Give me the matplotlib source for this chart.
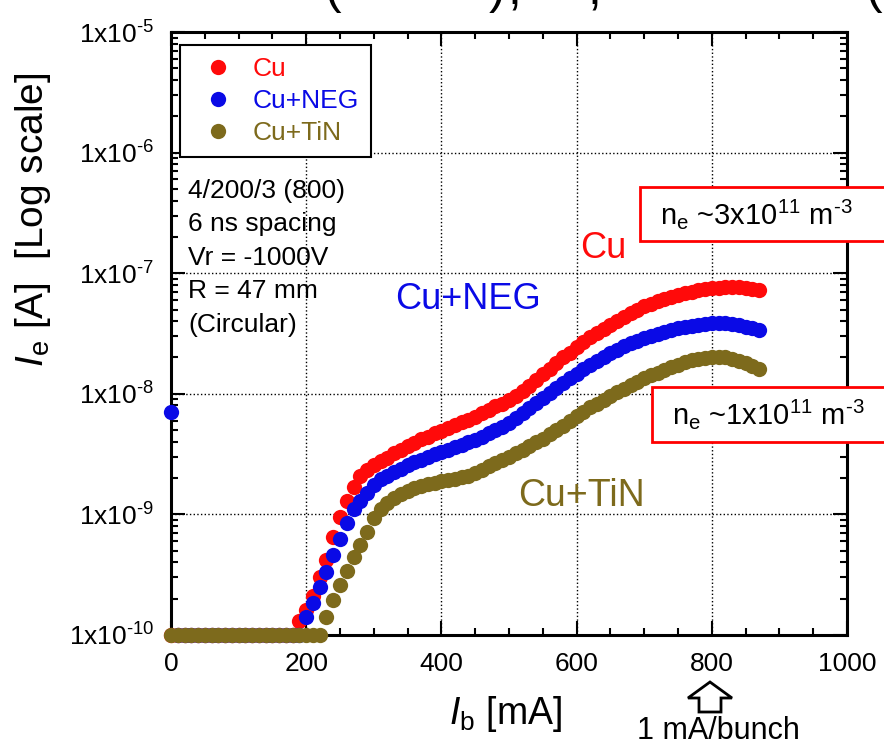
import matplotlib
matplotlib.use('Agg')
import matplotlib.pyplot as plt
import numpy as np
from matplotlib.ticker import FixedLocator, MultipleLocator, FuncFormatter, LogLocator
from matplotlib.patches import Rectangle, Polygon

plt.rcParams['font.family'] = ['Liberation Sans', 'DejaVu Sans']
plt.rcParams['mathtext.fontset'] = 'custom'
plt.rcParams['mathtext.rm'] = 'Liberation Sans'
plt.rcParams['mathtext.it'] = 'Liberation Sans:italic'

# beam current I_b [mA], same sampling for all three chambers
ib = [0, 10, 20, 30, 40, 50, 60, 70, 80, 90,
      100, 110, 120, 130, 140, 150, 160, 170, 180, 190,
      200, 210, 220, 230, 240, 250, 260, 270, 280, 290,
      300, 310, 320, 330, 340, 350, 360, 370, 380, 390,
      400, 410, 420, 430, 440, 450, 460, 470, 480, 490,
      500, 510, 520, 530, 540, 550, 560, 570, 580, 590,
      600, 610, 620, 630, 640, 650, 660, 670, 680, 690,
      700, 710, 720, 730, 740, 750, 760, 770, 780, 790,
      800, 810, 820, 830, 840, 850, 860, 870]

# electron current I_e [A]
ie_cu = [1e-10, 1e-10, 1e-10, 1e-10, 1e-10, 1e-10, 1e-10, 1e-10, 1e-10, 1e-10,
         1e-10, 1e-10, 1e-10, 1e-10, 1e-10, 1e-10, 1e-10, 1e-10, 1e-10, 1.3e-10,
         1.6e-10, 2.1e-10, 3.0e-10, 4.2e-10, 6.5e-10, 9.5e-10, 1.3e-9, 1.7e-9, 2.1e-9, 2.35e-9,
         2.55e-9, 2.75e-9, 2.95e-9, 3.2e-9, 3.45e-9, 3.7e-9, 3.9e-9, 4.2e-9, 4.4e-9, 4.7e-9,
         4.95e-9, 5.2e-9, 5.5e-9, 5.8e-9, 6.1e-9, 6.4e-9, 6.9e-9, 7.4e-9, 7.9e-9, 8.3e-9,
         8.9e-9, 9.6e-9, 1.05e-8, 1.17e-8, 1.3e-8, 1.45e-8, 1.6e-8, 1.8e-8, 2.0e-8, 2.2e-8,
         2.45e-8, 2.7e-8, 2.95e-8, 3.2e-8, 3.45e-8, 3.75e-8, 4.05e-8, 4.35e-8, 4.7e-8, 5.0e-8,
         5.3e-8, 5.55e-8, 5.85e-8, 6.1e-8, 6.35e-8, 6.6e-8, 6.85e-8, 7.05e-8, 7.25e-8, 7.4e-8,
         7.55e-8, 7.6e-8, 7.65e-8, 7.7e-8, 7.7e-8, 7.6e-8, 7.4e-8, 7.2e-8]

ie_neg = [7e-9, 1e-10, 1e-10, 1e-10, 1e-10, 1e-10, 1e-10, 1e-10, 1e-10, 1e-10,
          1e-10, 1e-10, 1e-10, 1e-10, 1e-10, 1e-10, 1e-10, 1e-10, 1e-10, 1e-10,
          1.4e-10, 1.85e-10, 2.5e-10, 3.3e-10, 4.6e-10, 6.3e-10, 8.5e-10, 1.1e-9, 1.3e-9, 1.5e-9,
          1.75e-9, 1.95e-9, 2.1e-9, 2.25e-9, 2.4e-9, 2.55e-9, 2.7e-9, 2.85e-9, 3.0e-9, 3.15e-9,
          3.3e-9, 3.45e-9, 3.6e-9, 3.75e-9, 3.95e-9, 4.15e-9, 4.4e-9, 4.7e-9, 5.0e-9, 5.35e-9,
          5.75e-9, 6.3e-9, 6.9e-9, 7.6e-9, 8.4e-9, 9.2e-9, 1.01e-8, 1.11e-8, 1.22e-8, 1.34e-8,
          1.47e-8, 1.6e-8, 1.73e-8, 1.88e-8, 2.02e-8, 2.17e-8, 2.32e-8, 2.47e-8, 2.62e-8, 2.75e-8,
          2.88e-8, 3.0e-8, 3.12e-8, 3.24e-8, 3.36e-8, 3.48e-8, 3.58e-8, 3.67e-8, 3.74e-8, 3.8e-8,
          3.84e-8, 3.86e-8, 3.85e-8, 3.8e-8, 3.7e-8, 3.6e-8, 3.5e-8, 3.4e-8]

ie_tin = [1e-10, 1e-10, 1e-10, 1e-10, 1e-10, 1e-10, 1e-10, 1e-10, 1e-10, 1e-10,
          1e-10, 1e-10, 1e-10, 1e-10, 1e-10, 1e-10, 1e-10, 1e-10, 1e-10, 1e-10,
          1e-10, 1e-10, 1e-10, 1.4e-10, 1.95e-10, 2.6e-10, 3.4e-10, 4.4e-10, 5.6e-10, 7.2e-10,
          9.3e-10, 1.1e-9, 1.25e-9, 1.38e-9, 1.48e-9, 1.57e-9, 1.64e-9, 1.71e-9, 1.77e-9, 1.83e-9,
          1.88e-9, 1.93e-9, 1.98e-9, 2.03e-9, 2.1e-9, 2.2e-9, 2.35e-9, 2.5e-9, 2.65e-9, 2.8e-9,
          3.0e-9, 3.2e-9, 3.45e-9, 3.7e-9, 3.95e-9, 4.25e-9, 4.6e-9, 5.0e-9, 5.45e-9, 5.95e-9,
          6.5e-9, 7.1e-9, 7.7e-9, 8.3e-9, 8.9e-9, 9.6e-9, 1.03e-8, 1.1e-8, 1.18e-8, 1.26e-8,
          1.34e-8, 1.42e-8, 1.5e-8, 1.58e-8, 1.66e-8, 1.74e-8, 1.82e-8, 1.89e-8, 1.95e-8, 1.99e-8,
          2.02e-8, 2.03e-8, 2.0e-8, 1.95e-8, 1.88e-8, 1.8e-8, 1.7e-8, 1.6e-8]

labels = ['Cu', 'Cu+NEG', 'Cu+TiN']
colors = ['#ff0a0a', '#0a0ae6', '#7d6a1c']
x_ticks = [0, 200, 400, 600, 800, 1000]
y_ticks = [1e-10, 1e-9, 1e-8, 1e-7, 1e-6, 1e-5]

HY = '\u2010'  # short hyphen like the original superscripts

W, H = 884, 745
fig = plt.figure(figsize=(W / 100, H / 100), dpi=100)
ax = fig.add_axes([171 / W, 1 - 635 / H, 676 / W, 603 / H])

for y, c, lab in zip([ie_cu, ie_neg, ie_tin], colors, labels):
    ax.plot(ib, y, 'o', ls='none', ms=11, color=c, mec='none', label=lab, clip_on=False, zorder=3)

ax.set_yscale('log')
ax.set_xlim(0, 1000)
ax.set_ylim(1e-10, 1e-5)
ax.xaxis.set_major_locator(FixedLocator(x_ticks))
ax.xaxis.set_minor_locator(MultipleLocator(50))
ax.yaxis.set_major_locator(FixedLocator(y_ticks))
ax.yaxis.set_minor_locator(LogLocator(base=10, subs=np.arange(2, 10)))
ax.yaxis.set_major_formatter(FuncFormatter(
    lambda v, p: r'1x10$^{\mathrm{%s%d}}$' % (HY, -round(np.log10(v)))))
ax.tick_params(which='both', direction='in', top=True, right=True, width=1.5)
ax.tick_params(which='major', length=10, labelsize=19)
ax.tick_params(axis='x', which='major', pad=12)
ax.tick_params(axis='y', which='major', pad=12)
ax.tick_params(which='minor', length=5)
for s in ax.spines.values():
    s.set_linewidth(2.2)
ax.grid(True, which='major', ls=':', color='k', lw=1)

leg = ax.legend(loc='upper left', bbox_to_anchor=(0.013, 0.978), fontsize=19, frameon=True,
                fancybox=False, edgecolor='k', framealpha=1, borderpad=0.45, labelspacing=0.3,
                handletextpad=0.3, handlelength=2.0, borderaxespad=0, markerscale=1.0)
leg.get_frame().set_linewidth(1.5)
for t, c in zip(leg.get_texts(), colors):
    t.set_color(c)

ax.text(0.025, 0.757, '4/200/3 (800)\n6 ns spacing\nVr = -1000V\nR = 47 mm\n(Circular)',
        transform=ax.transAxes, fontsize=19, va='top', ha='left', linespacing=1.5)

ax.text(605, 1.6e-7, 'Cu', color=colors[0], fontsize=26, va='center')
ax.text(331, 6.1e-8, 'Cu+NEG', color=colors[1], fontsize=26, va='center')
ax.text(513, 1.42e-9, 'Cu+TiN', color=colors[2], fontsize=27, va='center')

# axis labels
fig.text(33 / W, 1 - 220 / H, r'$I$$_{\rm e}$ [A]  [Log scale]', rotation=90, fontsize=28,
         ha='center', va='center')
fig.text(506 / W, 1 - 714 / H, r'$I$$_{\rm b}$ [mA]', fontsize=27, ha='center', va='center')

# density boxes (run off the right edge)
fig.add_artist(Rectangle((640 / W, 1 - 241 / H), 260 / W, 54 / H, transform=fig.transFigure,
                         facecolor='white', edgecolor='red', lw=2))
fig.text(660 / W, 1 - 214 / H, r'n$_{\rm e}$ ~3x10$^{11}$ m$^{\mathrm{%s3}}$' % HY,
         fontsize=21, va='center')
fig.add_artist(Rectangle((652 / W, 1 - 442 / H), 260 / W, 55 / H, transform=fig.transFigure,
                         facecolor='white', edgecolor='red', lw=2))
fig.text(672 / W, 1 - 414 / H, r'n$_{\rm e}$ ~1x10$^{11}$ m$^{\mathrm{%s3}}$' % HY,
         fontsize=21, va='center')

# hollow arrow under 800 mA
arrow_px = [(699, 712), (699, 698), (688, 698), (710, 682), (732, 698), (721, 698), (721, 712)]
fig.add_artist(Polygon([(px / W, 1 - py / H) for px, py in arrow_px], closed=True,
                       transform=fig.transFigure, facecolor='white', edgecolor='k', lw=2))
fig.text(718 / W, 1 - 739 / H, '1 mA/bunch', fontsize=22, ha='center', va='baseline')

# bits of the slide title cut off at the top
for px, ch in [(333, '('), (497, ')'), (514, ','), (594, ','), (874, '(')]:
    fig.text(px / W, 1 - 3 / H, ch, fontsize=36, ha='center', va='baseline')

fig.savefig('out.png', dpi=100)
